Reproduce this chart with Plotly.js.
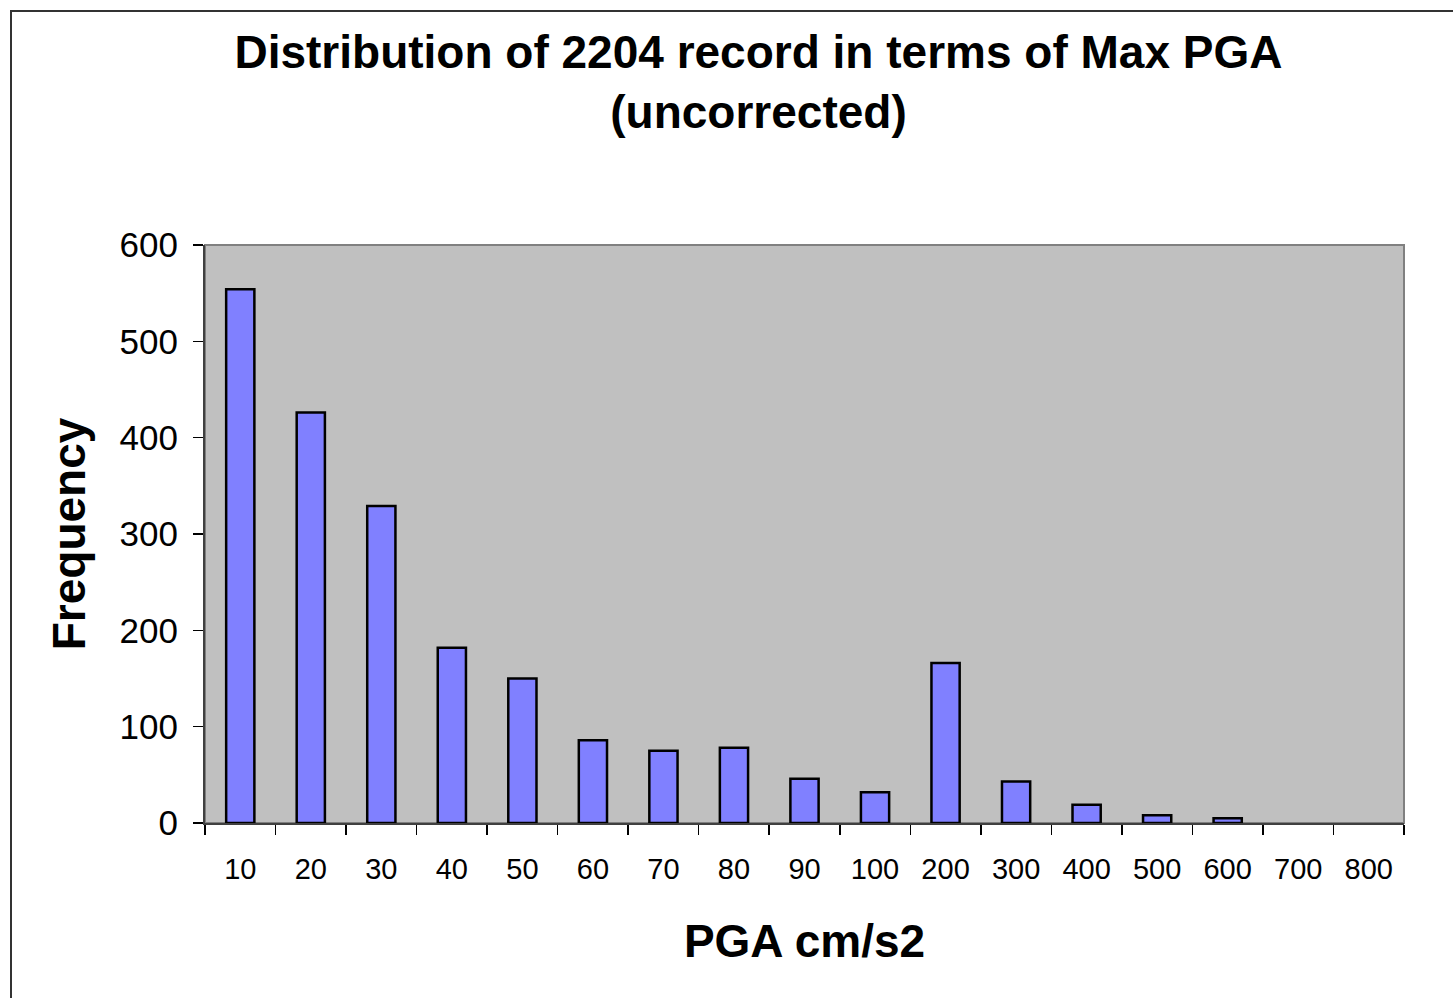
<!DOCTYPE html>
<html>
<head>
<meta charset="utf-8">
<script src="https://cdn.plot.ly/plotly-3.0.1.min.js"></script>
<style>
  html, body { margin: 0; padding: 0; background: #ffffff; overflow: hidden; }
  #chart { width: 1453px; height: 998px; position: absolute; left: 0; top: 0; }
  #frame { position: absolute; left: 10px; top: 10px; width: 1500px; height: 1100px;
           border-left: 2px solid #333333; border-top: 2px solid #333333; pointer-events: none; }
</style>
</head>
<body>
<div id="chart"></div>
<div id="frame"></div>
<script>
// ---- data ----
const categories = ["10", "20", "30", "40", "50", "60", "70", "80", "90", "100",
                    "200", "300", "400", "500", "600", "700", "800"];
const frequency = [554, 426, 329, 182, 150, 86, 75, 78, 46, 32,
                   166, 43, 19, 8, 5, 0, 0];
const yTickValues = [0, 100, 200, 300, 400, 500, 600];

const chartTitle = "Distribution of 2204 record in terms of Max PGA<br>(uncorrected)";
const xTitle = "PGA cm/s2";
const yTitle = "Frequency";

// boundaries between categories (for the inside half of the crossing ticks)
const boundaries = [];
for (let i = 0; i <= categories.length; i++) boundaries.push(i - 0.5);

const FONT = "Liberation Sans, Arial, sans-serif";

const trace = {
  type: "bar",
  x: categories,
  y: frequency,
  marker: {
    color: "#8080FF",
    // empty bins draw no outline (as in the original)
    line: { color: "#000000", width: frequency.map(v => (v > 0 ? 2.5 : 0)) }
  },
  hoverinfo: "x+y"
};

const layout = {
  width: 1453,
  height: 998,
  paper_bgcolor: "rgba(0,0,0,0)",
  plot_bgcolor: "#C0C0C0",
  margin: { l: 205, r: 49, t: 245, b: 175 },
  bargap: 0.6,
  showlegend: false,
  title: {
    text: chartTitle,
    font: { family: FONT, size: 46, color: "#000000", weight: "bold" },
    x: 0.522, xref: "container", xanchor: "center",
    y: 0.932, yref: "container", yanchor: "top"
  },
  xaxis: {
    type: "category",
    categoryorder: "array",
    categoryarray: categories,
    range: [-0.5, categories.length - 0.5],
    tickson: "boundaries",
    ticks: "outside",
    ticklen: 10,
    tickwidth: 1.5,
    tickcolor: "#000000",
    showline: true,
    linecolor: "#404040",
    linewidth: 2,
    showgrid: false,
    zeroline: false,
    tickfont: { family: FONT, size: 29, color: "#000000" },
    ticklabelstandoff: 19,
    title: {
      text: xTitle,
      font: { family: FONT, size: 46, color: "#000000", weight: "bold" },
      standoff: 41
    },
    fixedrange: true
  },
  xaxis2: {
    overlaying: "x",
    anchor: "y",
    type: "linear",
    range: [-0.5, categories.length - 0.5],
    tickmode: "array",
    tickvals: boundaries,
    ticks: "inside",
    ticklen: 10,
    tickwidth: 1.5,
    tickcolor: "#000000",
    showticklabels: false,
    showgrid: false,
    zeroline: false,
    showline: false,
    fixedrange: true
  },
  yaxis: {
    range: [0, 600],
    tickmode: "array",
    tickvals: yTickValues,
    ticks: "outside",
    ticklen: 10,
    tickwidth: 1.5,
    tickcolor: "#000000",
    showline: true,
    linecolor: "#404040",
    linewidth: 2,
    showgrid: false,
    zeroline: false,
    tickfont: { family: FONT, size: 35, color: "#000000" },
    ticklabelstandoff: 8,
    title: {
      text: yTitle,
      font: { family: FONT, size: 46, color: "#000000", weight: "bold" },
      standoff: 19
    },
    fixedrange: true
  },
  yaxis2: {
    overlaying: "y",
    anchor: "x",
    range: [0, 600],
    tickmode: "array",
    tickvals: yTickValues,
    ticks: "inside",
    ticklen: 10,
    tickwidth: 1.5,
    tickcolor: "#000000",
    showticklabels: false,
    showgrid: false,
    zeroline: false,
    showline: false,
    fixedrange: true
  },
  shapes: [{
    type: "rect", xref: "paper", yref: "paper",
    x0: 0, x1: 1, y0: 0, y1: 1,
    line: { color: "#808080", width: 2 },
    layer: "below"
  }]
};

Plotly.newPlot("chart", [trace], layout, { displayModeBar: false, staticPlot: true });
</script>
</body>
</html>
